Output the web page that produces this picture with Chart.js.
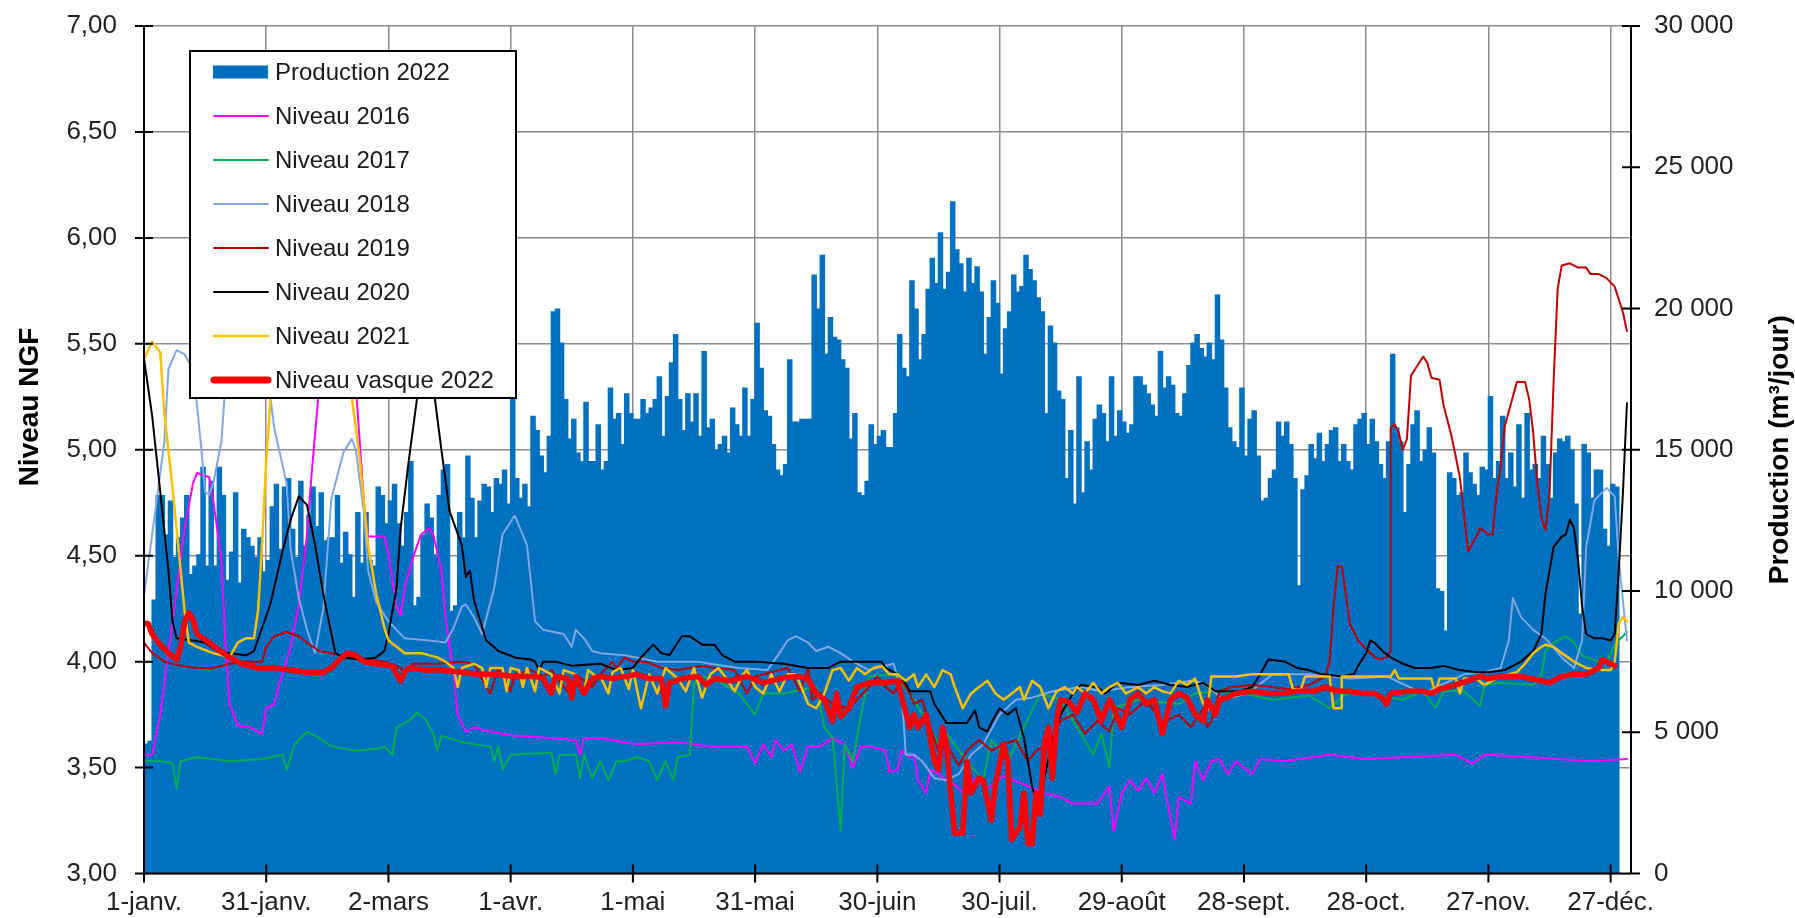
<!DOCTYPE html>
<html lang="fr">
<head>
<meta charset="utf-8">
<title>Niveau vasque et production 2022</title>
<script src="https://cdn.jsdelivr.net/npm/chart.js@4.4.1/dist/chart.umd.min.js"></script>
<style>
  html, body { margin: 0; padding: 0; background: #fff; }
</style>
</head>
<body>
<canvas id="chart" width="1795" height="918"></canvas>
<script>
// graduations de l'axe des dates (jours depuis le 1er janvier)
const tickDays = [0, 30, 60, 90, 120, 150, 180, 210, 240, 270, 300, 330, 360];
const tickLabels = ['1-janv.', '31-janv.', '2-mars', '1-avr.', '1-mai', '31-mai', '30-juin',
  '30-juil.', '29-août', '28-sept.', '28-oct.', '27-nov.', '27-déc.'];

// production journalière 2022 (m3/jour), un chiffre par jour depuis le 1er janvier
const production = [
  4600, 4700, 9700, 13400, 13400, 12000, 13200, 11200, 11900, 12600,
  13400, 10600, 10900, 11300, 14400, 10900, 13900, 10900, 14400, 13400,
  10400, 11400, 13500, 10300, 12200, 11900, 11600, 11200, 11900, 10700,
  11100, 13000, 13800, 11500, 13700, 14000, 12200, 11200, 13900, 11600,
  12700, 13700, 12300, 13500, 11800, 11900, 11900, 13400, 11000, 12100,
  11300, 9800, 12800, 11000, 12800, 11100, 10900, 13700, 13400, 12400,
  13200, 13800, 12400, 11600, 12800, 14600, 9500, 9800, 12000, 13100,
  12600, 11300, 13400, 14300, 14500, 9300, 9500, 12800, 11900, 14800,
  13300, 11900, 13200, 13800, 13700, 12800, 14000, 13800, 14300, 13100,
  16900, 14000, 13300, 13800, 13000, 16200, 15700, 14800, 14200, 15500,
  19900, 20000, 18800, 16800, 15400, 16100, 14900, 14600, 16700, 14600,
  14600, 15900, 14300, 14600, 17200, 16100, 16300, 15200, 17000, 16300,
  16100, 16100, 16800, 16300, 16500, 16800, 17600, 15500, 16900, 18100,
  19100, 16800, 15700, 17000, 16000, 17000, 15500, 18500, 15800, 16100,
  15000, 15200, 15500, 14900, 16500, 15900, 15500, 17200, 15500, 16800,
  19500, 17900, 16400, 16200, 15200, 14300, 14100, 14500, 18200, 16000,
  16000, 16100, 16100, 16100, 21200, 20000, 21900, 18400, 19700, 19000,
  18900, 18200, 17900, 15400, 16300, 13500, 13400, 13900, 15900, 15200,
  15500, 15700, 15100, 15100, 16300, 19100, 17900, 17600, 21000, 20000,
  18200, 19100, 20700, 21800, 20900, 22700, 20700, 21300, 23800, 22100,
  21600, 20600, 21800, 20900, 21500, 20600, 18400, 19700, 21000, 20200,
  17700, 19300, 19900, 21200, 20600, 20800, 21900, 21400, 21000, 20400,
  19900, 16300, 19400, 18800, 17100, 16800, 14000, 15700, 13100, 17600,
  13500, 15300, 14300, 16100, 16600, 16300, 15300, 17600, 15500, 16400,
  16000, 15600, 15900, 17600, 17600, 17300, 17000, 16600, 16200, 18500,
  17200, 17600, 17300, 16300, 16200, 17000, 18000, 18800, 19100, 18600,
  18300, 18800, 18200, 20500, 18900, 17200, 15800, 15300, 15100, 17200,
  14800, 16100, 16400, 14800, 13200, 13300, 14000, 14300, 16000, 15500,
  16000, 15200, 14000, 10200, 13600, 14100, 15200, 14700, 15600, 14600,
  15200, 15700, 15800, 14600, 15200, 14600, 14300, 15900, 16100, 16300,
  15200, 16100, 15300, 14500, 14000, 15300, 18400, 15800, 15300, 12800,
  14500, 15900, 16400, 14600, 15000, 15800, 14900, 10100, 10000, 8600,
  14200, 14000, 13400, 13500, 14900, 14200, 13800, 13400, 14400, 14300,
  16900, 14000, 14600, 16200, 14000, 14900, 13700, 15900, 13300, 16300,
  14300, 14500, 14000, 15500, 14500, 13300, 14900, 15400, 15300, 15500,
  15000, 13100, 9200, 15200, 14900, 13300, 14300, 14300, 12200, 11600,
  13800, 13700
];

// niveaux NGF : [jour, niveau]
const niveau2016 = [
  [0,3.56],[2,3.56],[4,3.75],[7,4.19],[10,4.63],[12,4.84],[13,4.89],[16,4.87],[17,4.76],[19,4.48],
  [20,4.08],[21,3.80],[23,3.70],[26,3.69],[28,3.67],[29,3.66],[30,3.78],[32,3.80],[33,3.88],[36,4.07],
  [38,4.27],[40,4.60],[41,4.85],[43,5.30],[47,5.60],[52,5.30],[54,4.75],[55,4.59],[59,4.59],[60,4.51],
  [62,4.26],[63,4.22],[64,4.35],[66,4.49],[68,4.60],[70,4.63],[71,4.60],[73,4.43],[74,4.21],[76,3.94],
  [77,3.75],[78,3.71],[79,3.67],[81,3.69],[85,3.67],[91,3.65],[100,3.64],[106,3.63],[107,3.56],[108,3.64],
  [112,3.64],[121,3.61],[131,3.62],[139,3.60],[148,3.60],[150,3.52],[152,3.61],[154,3.55],[155,3.63],[157,3.58],
  [159,3.61],[161,3.48],[163,3.60],[166,3.60],[169,3.64],[172,3.61],[174,3.50],[176,3.60],[178,3.60],[182,3.58],
  [183,3.48],[185,3.49],[186,3.58],[188,3.55],[189,3.56],[190,3.44],[192,3.38],[193,3.49],[195,3.47],[197,3.44],
  [199,3.42],[201,3.38],[204,3.45],[207,3.40],[211,3.46],[216,3.42],[221,3.38],[225,3.36],[228,3.33],[234,3.33],
  [237,3.41],[238,3.20],[240,3.38],[242,3.44],[244,3.39],[246,3.45],[248,3.38],[250,3.47],[251,3.36],[253,3.16],
  [254,3.36],[257,3.33],[258,3.53],[260,3.44],[262,3.53],[264,3.54],[266,3.47],[268,3.53],[272,3.47],[274,3.54],
  [280,3.53],[291,3.56],[300,3.54],[310,3.55],[322,3.56],[326,3.52],[329,3.56],[340,3.55],[355,3.53],[364,3.54]
];
const niveau2017 = [
  [0,3.53],[4,3.53],[7,3.52],[8,3.40],[9,3.53],[13,3.55],[21,3.53],[29,3.54],[34,3.56],[35,3.49],
  [37,3.61],[40,3.67],[43,3.64],[46,3.60],[52,3.58],[58,3.59],[59,3.60],[61,3.56],[62,3.69],[65,3.72],
  [67,3.76],[69,3.73],[71,3.66],[72,3.58],[73,3.65],[78,3.62],[81,3.61],[85,3.60],[86,3.53],[87,3.60],
  [88,3.49],[90,3.56],[100,3.57],[101,3.47],[102,3.56],[106,3.56],[107,3.45],[108,3.56],[110,3.45],[112,3.53],
  [114,3.44],[116,3.53],[118,3.53],[121,3.55],[124,3.53],[126,3.44],[128,3.53],[130,3.44],[131,3.55],[134,3.56],
  [135,3.89],[136,3.93],[140,3.92],[146,3.85],[150,3.75],[152,3.85],[157,3.85],[165,3.88],[167,3.69],[169,3.64],
  [171,3.20],[172,3.61],[174,3.53],[176,3.75],[178,3.93],[184,3.94],[188,3.85],[192,3.72],[195,3.61],[197,3.66],
  [202,3.53],[206,3.44],[208,3.63],[212,3.53],[216,3.69],[220,3.85],[225,3.82],[229,3.69],[233,3.56],[235,3.66],
  [237,3.50],[238,3.78],[244,3.82],[254,3.80],[258,3.85],[263,3.86],[270,3.85],[277,3.82],[286,3.84],[291,3.78],
  [295,3.85],[300,3.85],[309,3.82],[314,3.86],[317,3.78],[319,3.86],[324,3.86],[328,3.79],[329,3.89],[333,3.90],
  [341,3.89],[343,3.94],[344,4.05],[346,4.09],[349,4.12],[351,4.09],[353,4.03],[357,4.00],[359,4.00],[361,4.08],
  [364,4.14]
];
const niveau2018 = [
  [0,4.31],[2,4.60],[5,5.04],[6,5.38],[8,5.47],[10,5.45],[12,5.38],[13,5.21],[14,5.02],[15,4.80],
  [16,4.79],[17,4.84],[19,5.04],[20,5.31],[22,5.60],[26,5.60],[30,5.40],[32,5.10],[35,4.84],[36,4.53],
  [38,4.30],[40,4.15],[42,4.04],[44,4.25],[46,4.77],[49,4.99],[51,5.05],[52,5.00],[54,4.70],[55,4.43],
  [57,4.28],[60,4.19],[64,4.11],[70,4.10],[74,4.09],[76,4.16],[78,4.26],[79,4.27],[81,4.21],[83,4.13],
  [86,4.35],[88,4.60],[91,4.69],[94,4.55],[96,4.19],[98,4.15],[103,4.13],[105,4.07],[106,4.15],[108,4.11],
  [110,4.05],[112,4.04],[118,4.03],[126,4.00],[136,4.00],[139,3.99],[146,3.97],[153,3.96],[156,4.04],[158,4.10],
  [160,4.12],[163,4.09],[165,4.05],[168,4.07],[171,4.04],[174,4.00],[178,3.96],[184,3.99],[186,3.85],[187,3.56],
  [189,3.56],[191,3.53],[194,3.45],[197,3.44],[200,3.47],[203,3.56],[206,3.61],[210,3.75],[214,3.82],[218,3.83],
  [223,3.86],[230,3.88],[235,3.86],[242,3.88],[250,3.89],[257,3.91],[260,3.90],[265,3.82],[271,3.85],[277,3.94],
  [286,3.94],[296,3.92],[305,3.93],[314,3.85],[324,3.94],[329,3.95],[333,3.97],[335,4.10],[336,4.30],[338,4.21],
  [341,4.15],[344,4.11],[348,4.02],[351,3.97],[353,4.10],[354,4.54],[356,4.76],[359,4.82],[361,4.78],[362,4.48],
  [364,4.10]
];
const niveau2019 = [
  [0,4.09],[2,4.04],[5,4.00],[9,3.98],[13,3.97],[17,3.97],[21,3.99],[25,4.00],[29,4.00],[30,4.07],
  [32,4.12],[35,4.14],[38,4.12],[40,4.09],[43,4.05],[46,4.04],[50,4.02],[54,4.01],[59,4.00],[63,3.97],
  [64,3.94],[66,3.99],[72,3.99],[78,4.00],[81,3.99],[84,3.88],[85,3.85],[87,3.97],[90,3.86],[91,3.94],
  [95,3.96],[98,3.93],[100,3.96],[104,3.86],[106,3.94],[110,3.88],[112,3.94],[115,4.00],[116,3.97],[118,4.02],
  [120,4.00],[123,4.00],[127,3.97],[131,3.96],[137,3.98],[140,3.97],[145,3.96],[148,3.85],[150,3.93],[154,3.95],
  [158,3.97],[161,3.86],[163,3.97],[164,3.82],[166,3.85],[169,3.80],[173,3.78],[177,3.86],[180,3.93],[182,3.88],
  [184,3.85],[186,3.91],[188,3.85],[189,3.80],[191,3.82],[193,3.69],[195,3.58],[197,3.61],[200,3.51],[202,3.58],
  [205,3.63],[208,3.58],[211,3.61],[214,3.63],[217,3.53],[219,3.58],[222,3.61],[225,3.72],[228,3.75],[231,3.66],
  [234,3.72],[237,3.67],[239,3.78],[242,3.75],[246,3.82],[250,3.71],[254,3.75],[257,3.69],[260,3.78],[261,3.69],
  [262,3.72],[264,3.86],[267,3.88],[272,3.89],[277,3.88],[281,3.87],[286,3.89],[290,3.93],[291,4.00],[292,4.26],
  [293,4.45],[294,4.45],[295,4.32],[296,4.18],[298,4.10],[301,4.04],[303,4.01],[305,4.02],[306,4.05],[306,5.10],
  [307,5.12],[308,5.08],[309,5.00],[310,5.05],[311,5.35],[312,5.38],[314,5.44],[315,5.41],[316,5.34],[318,5.33],
  [319,5.21],[321,5.06],[323,4.87],[324,4.70],[325,4.52],[327,4.59],[328,4.63],[330,4.60],[331,4.60],[332,4.79],
  [333,4.92],[334,5.11],[336,5.25],[337,5.32],[339,5.32],[340,5.24],[341,5.08],[342,4.84],[343,4.68],[344,4.62],
  [345,4.79],[346,5.32],[347,5.76],[348,5.87],[350,5.88],[352,5.86],[354,5.86],[355,5.83],[357,5.83],[359,5.81],
  [361,5.77],[362,5.71],[363,5.65],[364,5.56]
];
const niveau2020 = [
  [0,5.43],[2,5.16],[4,4.80],[6,4.43],[7,4.19],[8,4.11],[12,4.10],[15,4.09],[18,4.05],[21,4.04],
  [25,4.03],[27,4.05],[29,4.16],[31,4.27],[34,4.52],[36,4.67],[38,4.78],[40,4.74],[42,4.55],[44,4.32],
  [46,4.13],[47,4.04],[49,4.02],[53,4.01],[57,4.02],[59,4.05],[60,4.13],[62,4.35],[63,4.63],[65,4.95],
  [67,5.24],[69,5.35],[71,5.30],[73,5.00],[75,4.71],[78,4.55],[79,4.40],[80,4.43],[81,4.29],[84,4.10],
  [87,4.05],[91,4.02],[95,4.01],[96,4.00],[97,3.96],[98,4.00],[101,4.00],[105,3.98],[112,3.99],[116,3.96],
  [120,3.97],[122,4.02],[125,4.08],[127,4.04],[129,4.03],[132,4.12],[134,4.12],[137,4.08],[140,4.08],[142,4.03],
  [145,4.00],[150,4.00],[157,3.99],[163,3.97],[168,3.97],[171,4.00],[181,4.00],[182,3.97],[186,3.93],[188,3.86],
  [193,3.86],[194,3.80],[197,3.71],[202,3.71],[204,3.77],[205,3.69],[207,3.67],[208,3.71],[210,3.78],[212,3.75],
  [214,3.78],[216,3.64],[218,3.41],[220,3.28],[221,3.45],[223,3.63],[225,3.75],[228,3.85],[230,3.89],[234,3.88],
  [236,3.85],[239,3.90],[244,3.89],[248,3.91],[252,3.89],[256,3.88],[260,3.90],[263,3.86],[269,3.86],[272,3.88],
  [274,3.94],[276,4.01],[280,4.00],[283,3.97],[286,3.96],[289,3.94],[294,3.93],[297,3.94],[298,3.98],[300,4.04],
  [301,4.10],[302,4.09],[304,4.05],[306,4.02],[309,3.99],[312,3.97],[316,3.97],[319,3.98],[323,3.96],[327,3.95],
  [330,3.95],[334,3.96],[338,4.00],[341,4.05],[343,4.13],[344,4.32],[346,4.54],[348,4.59],[349,4.60],[350,4.67],
  [351,4.63],[352,4.48],[353,4.26],[354,4.13],[356,4.11],[358,4.11],[360,4.10],[361,4.13],[362,4.43],[363,4.79],
  [364,5.22]
];
const niveau2021 = [
  [0,5.43],[2,5.51],[4,5.46],[5,5.17],[7,4.82],[9,4.43],[10,4.23],[11,4.09],[13,4.07],[17,4.04],
  [21,4.02],[23,4.09],[25,4.11],[27,4.11],[28,4.24],[29,4.56],[30,4.95],[32,5.50],[35,5.75],[40,5.80],
  [45,5.75],[49,5.50],[51,5.25],[53,4.95],[55,4.55],[57,4.32],[59,4.16],[60,4.10],[62,4.07],[64,4.04],
  [68,4.04],[72,4.02],[74,4.00],[76,3.97],[77,3.88],[78,3.97],[81,3.99],[83,3.97],[84,3.88],[85,3.97],
  [88,3.97],[89,3.86],[90,3.97],[92,3.96],[93,3.88],[94,3.97],[96,3.86],[97,3.97],[100,3.94],[102,3.85],
  [103,3.96],[106,3.94],[108,3.85],[109,3.96],[111,3.93],[112,3.93],[114,3.85],[115,3.95],[117,3.97],[119,3.87],
  [120,3.96],[122,3.78],[124,3.94],[126,3.85],[128,3.97],[131,3.92],[133,3.86],[135,3.97],[137,3.83],[139,3.94],
  [141,3.97],[143,3.92],[145,3.86],[147,3.94],[148,3.96],[150,3.88],[152,3.85],[154,3.94],[156,3.86],[158,3.94],
  [160,3.94],[162,3.85],[163,3.80],[165,3.78],[167,3.85],[169,3.96],[171,3.97],[173,3.91],[175,3.97],[177,3.94],
  [179,3.97],[181,3.98],[183,3.94],[185,3.94],[187,3.91],[189,3.94],[190,3.88],[192,3.94],[194,3.88],[196,3.96],
  [198,3.94],[199,3.88],[201,3.78],[203,3.85],[205,3.88],[207,3.91],[209,3.85],[211,3.82],[213,3.85],[215,3.88],
  [216,3.82],[218,3.91],[220,3.88],[222,3.78],[224,3.86],[226,3.88],[228,3.85],[229,3.88],[231,3.85],[233,3.90],
  [235,3.85],[237,3.88],[239,3.90],[241,3.85],[242,3.86],[244,3.88],[246,3.85],[248,3.88],[250,3.86],[252,3.85],
  [254,3.91],[256,3.89],[258,3.92],[260,3.80],[261,3.77],[262,3.93],[268,3.93],[272,3.94],[277,3.94],[281,3.94],
  [282,3.87],[284,3.87],[285,3.93],[291,3.93],[292,3.78],[294,3.78],[294,3.93],[300,3.93],[306,3.93],[307,3.96],
  [308,3.92],[316,3.92],[317,3.85],[318,3.92],[322,3.92],[323,3.85],[324,3.92],[327,3.92],[329,3.89],[333,3.93],
  [337,3.95],[339,3.99],[341,4.04],[343,4.07],[344,4.08],[346,4.07],[348,4.04],[351,4.00],[354,3.97],[358,3.96],
  [360,3.96],[361,4.00],[362,4.18],[363,4.21],[364,4.19]
];
const vasque2022 = [
  [0,4.18],[1,4.18],[2,4.13],[4,4.08],[6,4.04],[8,4.01],[9,4.07],[10,4.19],[11,4.23],[12,4.20],
  [13,4.13],[16,4.09],[18,4.06],[21,4.02],[24,3.99],[28,3.97],[32,3.97],[36,3.96],[40,3.95],[44,3.95],
  [46,3.97],[48,4.01],[50,4.04],[52,4.03],[54,4.00],[57,3.99],[61,3.98],[62,3.94],[63,3.91],[64,3.95],
  [65,3.97],[69,3.96],[73,3.96],[78,3.95],[82,3.94],[86,3.94],[91,3.93],[96,3.93],[98,3.92],[100,3.85],
  [101,3.93],[104,3.92],[105,3.83],[106,3.93],[108,3.85],[110,3.92],[112,3.93],[115,3.92],[118,3.93],[121,3.94],
  [124,3.92],[127,3.92],[128,3.79],[129,3.90],[132,3.92],[136,3.93],[138,3.89],[140,3.92],[144,3.91],[148,3.93],
  [152,3.90],[156,3.92],[160,3.93],[163,3.92],[165,3.85],[167,3.82],[169,3.72],[170,3.85],[171,3.74],[173,3.78],
  [175,3.88],[178,3.90],[182,3.90],[185,3.91],[186,3.83],[188,3.69],[189,3.75],[190,3.69],[192,3.75],[194,3.53],
  [195,3.49],[196,3.69],[197,3.61],[198,3.38],[199,3.19],[201,3.19],[202,3.53],[203,3.38],[205,3.45],[206,3.44],
  [208,3.25],[209,3.42],[211,3.61],[212,3.53],[213,3.16],[215,3.22],[216,3.38],[217,3.14],[218,3.14],[219,3.38],
  [220,3.28],[221,3.61],[222,3.69],[223,3.45],[224,3.72],[225,3.82],[227,3.81],[229,3.76],[231,3.85],[233,3.82],
  [235,3.72],[237,3.82],[238,3.78],[240,3.69],[242,3.82],[244,3.85],[246,3.80],[248,3.82],[250,3.66],[252,3.82],
  [254,3.85],[256,3.83],[258,3.75],[260,3.72],[261,3.82],[263,3.75],[264,3.82],[266,3.83],[268,3.85],[272,3.86],
  [276,3.85],[280,3.85],[283,3.86],[287,3.86],[290,3.88],[293,3.86],[296,3.86],[299,3.85],[302,3.85],[304,3.83],
  [305,3.80],[306,3.85],[310,3.86],[314,3.86],[316,3.85],[318,3.87],[322,3.89],[325,3.91],[328,3.93],[330,3.92],
  [333,3.93],[338,3.93],[343,3.91],[345,3.90],[348,3.93],[351,3.94],[354,3.94],[357,3.97],[358,4.01],[359,4.00],
  [361,3.98]
];

const FONT = "'Liberation Sans', Arial, Helvetica, sans-serif";
const GRID = '#8c8c8c';
const NO_TICK = 'rgba(0,0,0,0)';
Chart.defaults.font.family = FONT;
Chart.defaults.color = '#222';

const thousands = v => String(v).replace(/\B(?=(\d{3})+(?!\d))/g, ' ');
const pts = arr => arr.map(([x, y]) => ({ x, y }));

function lineSet(label, data, color, width, order) {
  return {
    type: 'line', label, data: pts(data), yAxisID: 'y',
    borderColor: color, backgroundColor: color, borderWidth: width,
    pointRadius: 0, tension: 0, borderJoinStyle: 'round', borderCapStyle: 'round', order
  };
}

// légende encadrée, axes noirs avec graduations croisées, titres des axes
const decor = {
  id: 'decor',
  afterDatasetsDraw(chart) {
    const { ctx, chartArea: a, scales } = chart;
    ctx.save();
    ctx.strokeStyle = '#000';
    ctx.lineWidth = 2;
    ctx.beginPath();
    ctx.moveTo(a.left, a.top); ctx.lineTo(a.left, a.bottom); ctx.lineTo(a.right, a.bottom);
    ctx.moveTo(a.right, a.top); ctx.lineTo(a.right, a.bottom);
    scales.y.ticks.forEach(t => {
      const p = scales.y.getPixelForValue(t.value);
      ctx.moveTo(a.left - 9, p); ctx.lineTo(a.left + 9, p);
    });
    scales.y2.ticks.forEach(t => {
      const p = scales.y2.getPixelForValue(t.value);
      ctx.moveTo(a.right - 9, p); ctx.lineTo(a.right + 9, p);
    });
    scales.x.ticks.forEach(t => {
      const p = scales.x.getPixelForValue(t.value);
      ctx.moveTo(p, a.bottom - 9); ctx.lineTo(p, a.bottom + 9);
    });
    ctx.stroke();

    // légende
    const bx = a.left + 46, by = a.top + 25, bw = 326, bh = 347;
    ctx.fillStyle = '#fff';
    ctx.fillRect(bx, by, bw, bh);
    ctx.lineWidth = 2;
    ctx.strokeRect(bx, by, bw, bh);
    ctx.font = '24px ' + FONT;
    ctx.textAlign = 'left';
    ctx.textBaseline = 'middle';
    chart.data.datasets.forEach((ds, i) => {
      const cy = by + 21 + i * 44;
      if (ds.type === 'bar') {
        ctx.fillStyle = ds.backgroundColor;
        ctx.fillRect(bx + 23, cy - 6.5, 55, 13);
      } else {
        ctx.strokeStyle = ds.borderColor;
        ctx.lineWidth = ds.legendWidth || ds.borderWidth;
        ctx.lineCap = 'round';
        ctx.beginPath();
        ctx.moveTo(bx + 24, cy); ctx.lineTo(bx + 78, cy);
        ctx.stroke();
      }
      ctx.fillStyle = '#1a1a1a';
      ctx.fillText(ds.label, bx + 85, cy + 1);
    });

    // titres des axes
    ctx.fillStyle = '#000';
    ctx.font = 'bold 28px ' + FONT;
    ctx.textAlign = 'center';
    ctx.textBaseline = 'alphabetic';
    ctx.save();
    ctx.translate(38, 407);
    ctx.rotate(-Math.PI / 2);
    ctx.fillText('Niveau NGF', 0, 0);
    ctx.restore();
    ctx.save();
    ctx.translate(1788, (a.top + a.bottom) / 2);
    ctx.rotate(-Math.PI / 2);
    ctx.fillText('Production (m³/jour)', 0, 0);
    ctx.restore();
    ctx.restore();
  }
};

const datasets = [
  {
    type: 'bar', label: 'Production 2022', yAxisID: 'y2', order: 10,
    data: production.map((v, i) => ({ x: i + 0.5, y: v })),
    backgroundColor: '#0070C0', borderWidth: 0,
    barPercentage: 1.35, categoryPercentage: 1
  },
  lineSet('Niveau 2016', niveau2016, '#FF00FF', 2, 7),
  lineSet('Niveau 2017', niveau2017, '#00B050', 2, 6),
  lineSet('Niveau 2018', niveau2018, '#7FA8E4', 2, 5),
  lineSet('Niveau 2019', niveau2019, '#C00000', 2, 4),
  lineSet('Niveau 2020', niveau2020, '#000000', 2, 3),
  lineSet('Niveau 2021', niveau2021, '#FFC000', 2.5, 2),
  Object.assign(lineSet('Niveau vasque 2022', vasque2022, '#FF0000', 5.5, 1), { legendWidth: 7 })
];

new Chart(document.getElementById('chart'), {
  type: 'bar',
  data: { datasets },
  plugins: [decor],
  options: {
    responsive: false,
    animation: false,
    layout: { padding: { top: 26, left: 0, right: 0, bottom: 0 } },
    plugins: { legend: { display: false }, tooltip: { enabled: false } },
    scales: {
      x: {
        type: 'linear', min: 0, max: 365, offset: false,
        grid: { offset: false, color: GRID, lineWidth: 1.5, tickColor: NO_TICK, tickLength: 9 },
        border: { display: false },
        afterBuildTicks: s => { s.ticks = tickDays.map(value => ({ value })); },
        ticks: {
          autoSkip: false, maxRotation: 0, padding: 5, font: { size: 26 },
          callback: (v, i) => tickLabels[i]
        },
        afterFit: s => { s.height = 44.5; }
      },
      y: {
        position: 'left', min: 3, max: 7, beginAtZero: false,
        grid: { color: GRID, lineWidth: 1.5, tickColor: NO_TICK, tickLength: 27 },
        border: { display: false },
        ticks: { stepSize: 0.5, padding: 0, font: { size: 26 }, callback: v => v.toFixed(2).replace('.', ',') },
        afterFit: s => { s.width = 144; }
      },
      y2: {
        position: 'right', min: 0, max: 30000, beginAtZero: true,
        grid: { drawOnChartArea: false, tickColor: NO_TICK, tickLength: 23 },
        border: { display: false },
        ticks: { stepSize: 5000, padding: 0, font: { size: 26 }, callback: v => thousands(v) },
        afterFit: s => { s.width = 164; }
      }
    }
  }
});
</script>
</body>
</html>
